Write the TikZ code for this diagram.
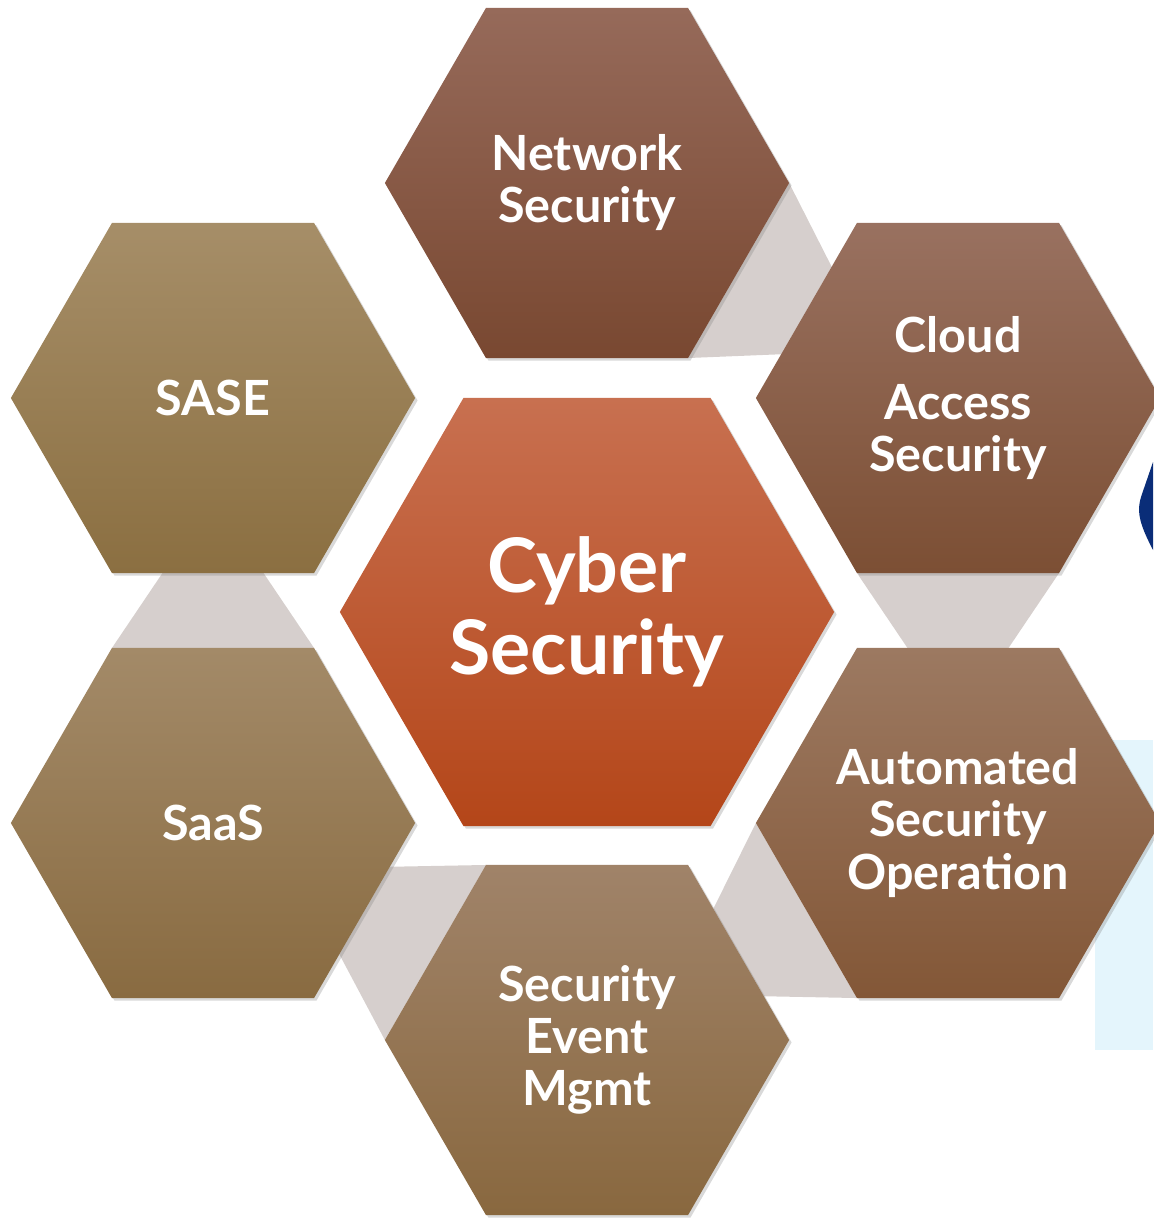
\documentclass[tikz,border=0pt]{standalone}
\usepackage{fontspec}
\setsansfont{Lato}
\usepackage{xcolor}
\usepackage{tikz}
\usetikzlibrary{shapes,positioning,calc,shadows,backgrounds}

\definecolor{netTop}{RGB}{150,106,90}
\definecolor{netBot}{RGB}{121,72,49}
\definecolor{cloudTop}{RGB}{153,113,96}
\definecolor{cloudBot}{RGB}{124,79,52}
\definecolor{autoTop}{RGB}{156,121,97}
\definecolor{autoBot}{RGB}{131,87,55}
\definecolor{semTop}{RGB}{160,131,105}
\definecolor{semBot}{RGB}{137,104,63}
\definecolor{saseTop}{RGB}{166,142,104}
\definecolor{saseBot}{RGB}{139,111,65}
\definecolor{saasTop}{RGB}{163,138,104}
\definecolor{saasBot}{RGB}{137,107,65}
\definecolor{cyberTop}{RGB}{200,112,80}
\definecolor{cyberBot}{RGB}{180,70,25}
\definecolor{bandGrey}{RGB}{214,207,205}
\definecolor{paleBlue}{RGB}{228,245,252}
\definecolor{navyBlue}{RGB}{10,45,120}

\begin{document}
\begin{tikzpicture}[x=0.01cm, y=-0.01cm,
    hexa/.style={regular polygon, regular polygon sides=6, minimum size=4.04cm,
        inner sep=0pt, outer sep=0pt, align=center, text=white,
        font=\sffamily\bfseries\fontsize{13.8}{14.8}\selectfont,
        drop shadow={shadow xshift=0.7pt, shadow yshift=-0.7pt, opacity=0.3}},
    band/.style={fill=bandGrey}]
    \useasboundingbox (0,0) rectangle (1153,1218);

    % Edge of the next slide
    \fill[paleBlue] (1095,740) rectangle (1153,1050);
    \fill[navyBlue] (1153,462) -- (1142,494) .. controls (1136,511) and (1139,523) .. (1153,550) -- cycle;

    % Centre
    \node[hexa, minimum size=4.94cm, top color=cyberTop, bottom color=cyberBot,
        font=\sffamily\bfseries\fontsize{21.4}{23.5}\selectfont] (cyber) at (587,612) {Cyber\\Security};

    % Ring
    \node[hexa, top color=netTop, bottom color=netBot] (net) at (587,183) {Network\\Security};
    \node[hexa, top color=cloudTop, bottom color=cloudBot] (cloud) at (958,398) {Cloud\\[4.5pt]Access\\Security};
    \node[hexa, top color=autoTop, bottom color=autoBot] (auto) at (958,823) {Automated\\Security\\Operation};
    \node[hexa, top color=semTop, bottom color=semBot] (sem) at (587,1040) {Security\\Event\\Mgmt};
    \node[hexa, top color=saasTop, bottom color=saasBot] (saas) at (213,823) {SaaS};
    \node[hexa, top color=saseTop, bottom color=saseBot] (sase) at (213,398) {SASE};

    % Bands between the ring
    \begin{scope}[on background layer]
        \foreach \src/\dst/\sa/\sb/\da/\db in {net/cloud/0/-60/120/180, cloud/auto/-60/-120/60/120,
                auto/sem/-120/180/0/60, sem/saas/120/180/0/-60, saas/sase/60/120/-60/-120}
            \fill[band] (\src.\sa) -- ($(\dst.\da)!0.25!(\dst.\db)$) -- ($(\dst.\da)!0.75!(\dst.\db)$) -- (\src.\sb) -- cycle;
    \end{scope}
\end{tikzpicture}
\end{document}
